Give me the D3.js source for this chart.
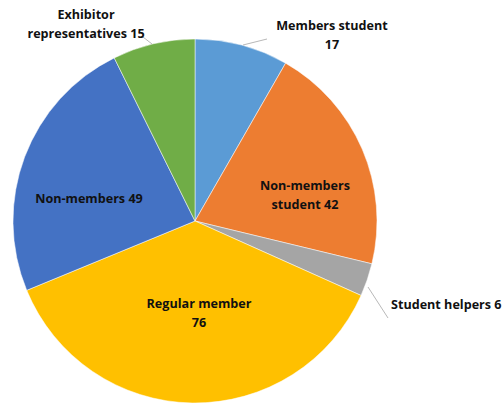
<!DOCTYPE html>
<html>
<head>
<meta charset="utf-8">
<script src="https://cdn.jsdelivr.net/npm/d3@7"></script>
<style>
  body { margin: 0; background: #fff; }
  text { font-family: "Open Sans", sans-serif; font-weight: bold; font-size: 12.6px; fill: #111; }
</style>
</head>
<body>
<svg id="chart" width="504" height="409"></svg>
<script>
const categories = ['Members student', 'Non-members student', 'Student helpers', 'Regular member', 'Non-members', 'Exhibitor representatives'];
const values = [17, 42, 6, 76, 49, 15];
const colors = ['#5b9bd5', '#ed7d31', '#a5a5a5', '#ffc000', '#4472c4', '#70ad47'];
// label lines as shown in the picture
const labelLines = [
  ['Members student', '17'],
  ['Non-members', 'student 42'],
  ['Student helpers 6'],
  ['Regular member', '76'],
  ['Non-members 49'],
  ['Exhibitor', 'representatives 15']
];

const cx = 195, cy = 221, r = 182;
const svg = d3.select('#chart');
const g = svg.append('g').attr('transform', `translate(${cx},${cy})`);

const pie = d3.pie().sort(null).value(d => d);
const arcs = pie(values);
const arc = d3.arc().innerRadius(0).outerRadius(r);

g.selectAll('path')
  .data(arcs)
  .enter()
  .append('path')
  .attr('d', arc)
  .style('fill', (d, i) => colors[i])
  .style('stroke', '#fff')
  .style('stroke-width', 0.5);

const labelPos = [
  { x: 332, y: 30, anchor: 'middle' },
  { x: 305, y: 190, anchor: 'middle' },
  { x: 391, y: 309, anchor: 'start' },
  { x: 199, y: 308, anchor: 'middle' },
  { x: 89, y: 203, anchor: 'middle' },
  { x: 86, y: 19, anchor: 'middle' }
];

const leaders = { 0: [[243, 45], [267, 39]], 2: [[368, 287], [388, 318]], 5: [[152, 44], [143, 37]] };

Object.keys(leaders).forEach(k => {
  svg.append('path')
    .attr('d', d3.line()(leaders[k]))
    .style('fill', 'none')
    .style('stroke', '#a6a6a6')
    .style('stroke-width', 0.8);
});

labelLines.forEach((lines, i) => {
  const p = labelPos[i];
  const t = svg.append('text')
    .attr('x', p.x)
    .attr('y', p.y)
    .attr('text-anchor', p.anchor);
  lines.forEach((l, j) => {
    t.append('tspan')
      .attr('x', p.x)
      .attr('dy', j === 0 ? 0 : 19)
      .text(l);
  });
});
</script>
</body>
</html>
